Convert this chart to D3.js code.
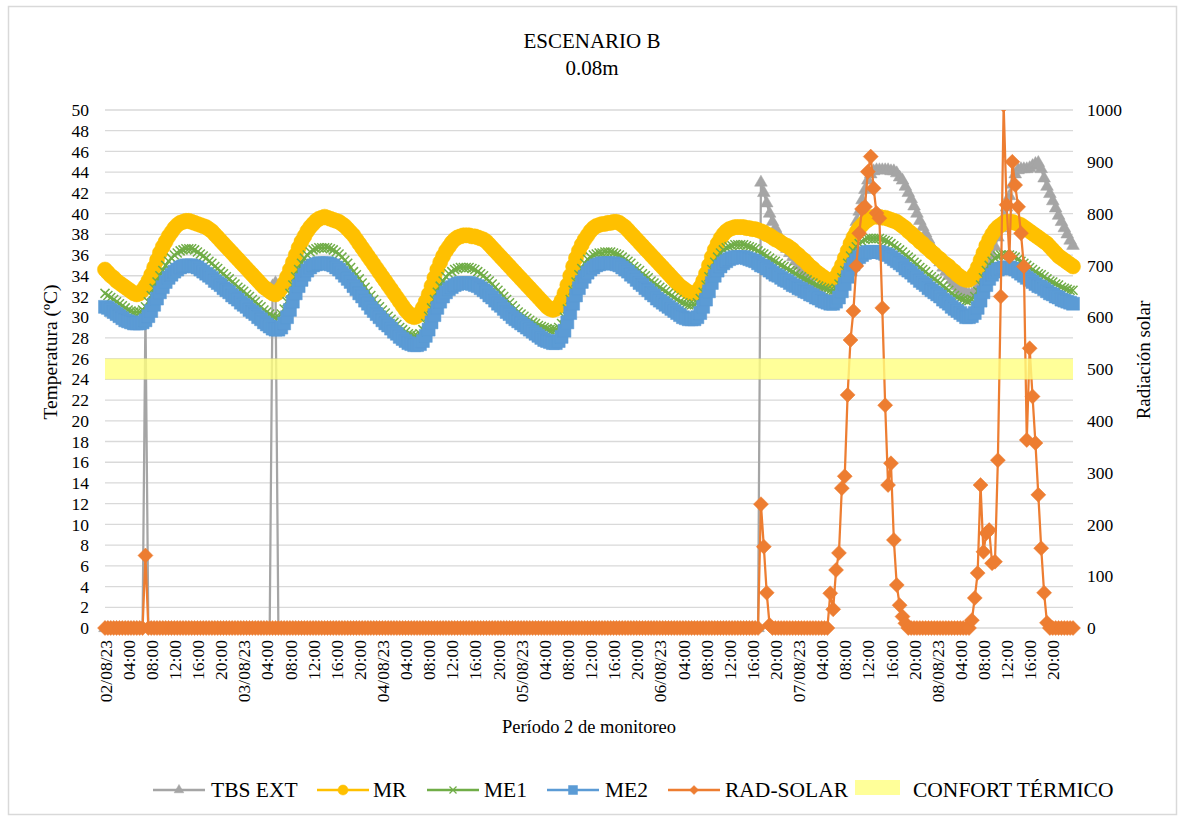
<!DOCTYPE html>
<html>
<head>
<meta charset="utf-8">
<script src="https://cdn.jsdelivr.net/npm/d3@7"></script>
<style>
  body { margin: 0; background: #fff; }
  svg text { font-family: "Liberation Serif", "Times New Roman", serif; fill: #000; }
</style>
</head>
<body>
<script>
// half-hourly readings, 02/08/23 00:00 -> 08/08/23 23:30 (48 per day, 12 per row)
let tbsExt = [
  0,0,0,0,0,0,0,0,0,0,0,0,
  0,0,30.5,0,0,0,0,0,0,0,0,0,
  0,0,0,0,0,0,0,0,0,0,0,0,
  0,0,0,0,0,0,0,0,0,0,0,0,
  0,0,0,0,0,0,0,0,0,0,33.0,33.3,
  0,0,0,0,0,0,0,0,0,0,0,0,
  0,0,0,0,0,0,0,0,0,0,0,0,
  0,0,0,0,0,0,0,0,0,0,0,0,
  0,0,0,0,0,0,0,0,0,0,0,0,
  0,0,0,0,0,0,0,0,0,0,0,0,
  0,0,0,0,0,0,0,0,0,0,0,0,
  0,0,0,0,0,0,0,0,0,0,0,0,
  0,0,0,0,0,0,0,0,0,0,0,0,
  0,0,0,0,0,0,0,0,0,0,0,0,
  0,0,0,0,0,0,0,0,0,0,0,0,
  0,0,0,0,0,0,0,0,0,0,0,0,
  0,0,0,0,0,0,0,0,0,0,0,0,
  0,0,0,0,0,0,0,0,0,0,0,0,
  0,0,0,0,0,0,0,0,0,0,0,43.0,
  42.0, 41.0, 40.0, 39.2, 38.6, 38.0, 37.5, 37.0, 36.6, 36.2, 35.8, 35.4,
  35.0, 34.6, 34.2, 33.8, 33.4, 33.0, 32.7, 32.4, 32.1, 31.8, 31.6, 31.5,
  31.6, 32.4, 33.5, 34.6, 35.6, 36.6, 37.5, 38.3, 39.2, 40.2, 41.3, 42.3,
  43.2, 43.8, 44.1, 44.2, 44.2, 44.2, 44.2, 44.2, 44.1, 44.1, 43.9, 43.5,
  43.2, 42.6, 42.0, 41.4, 40.7, 40.0, 39.3, 38.7, 38.1, 37.5, 36.9, 36.3,
  35.8, 35.3, 34.8, 34.4, 34.0, 33.6, 33.3, 33.0, 32.7, 32.5, 32.3, 32.2,
  32.2, 32.4, 32.8, 33.3, 33.9, 34.6, 35.3, 36.0, 36.8, 37.7, 38.6, 39.6,
  40.6, 41.7, 42.8, 43.8, 44.2, 44.3, 44.3, 44.3, 44.4, 44.6, 44.8, 44.9,
  44.3, 43.4, 42.6, 41.9, 41.2, 40.5, 39.8, 39.2, 38.6, 38.0, 37.4, 36.9
]

let mr = [
  34.6, 34.3, 34.0, 33.8, 33.5, 33.3, 33.1, 32.9, 32.7, 32.5, 32.3, 32.2,
  32.3, 32.6, 33.0, 33.5, 34.1, 34.8, 35.5, 36.2, 36.8, 37.3, 37.8, 38.2,
  38.6, 38.9, 39.1, 39.2, 39.3, 39.3, 39.2, 39.1, 39.0, 38.9, 38.8, 38.7,
  38.5, 38.3, 38.0, 37.7, 37.4, 37.1, 36.8, 36.5, 36.2, 35.9, 35.6, 35.3,
  35.0, 34.7, 34.4, 34.1, 33.8, 33.5, 33.2, 32.9, 32.7, 32.5, 32.3, 32.2,
  32.4, 32.8, 33.3, 33.9, 34.6, 35.3, 36.0, 36.7, 37.3, 37.8, 38.3, 38.7,
  39.0, 39.3, 39.5, 39.6, 39.7, 39.6, 39.5, 39.4, 39.3, 39.2, 39.0, 38.8,
  38.5, 38.2, 37.9, 37.5, 37.1, 36.7, 36.3, 35.9, 35.5, 35.1, 34.7, 34.3,
  33.9, 33.5, 33.1, 32.7, 32.3, 31.9, 31.5, 31.1, 30.7, 30.4, 30.1, 30.0,
  30.1, 30.4, 30.9, 31.5, 32.2, 33.0, 33.8, 34.6, 35.3, 35.9, 36.4, 36.8,
  37.2, 37.5, 37.7, 37.8, 37.9, 37.9, 37.9, 37.8, 37.8, 37.7, 37.6, 37.5,
  37.3, 37.0, 36.7, 36.4, 36.1, 35.8, 35.5, 35.2, 34.9, 34.6, 34.3, 34.0,
  33.7, 33.4, 33.1, 32.8, 32.5, 32.2, 31.9, 31.6, 31.3, 31.0, 30.8, 30.7,
  30.8, 31.1, 31.6, 32.3, 33.1, 34.0, 34.9, 35.7, 36.4, 37.0, 37.5, 37.9,
  38.3, 38.6, 38.8, 38.9, 39.0, 39.0, 39.1, 39.1, 39.2, 39.2, 39.1, 38.9,
  38.7, 38.4, 38.1, 37.8, 37.5, 37.2, 36.9, 36.6, 36.3, 36.0, 35.7, 35.4,
  35.1, 34.8, 34.5, 34.2, 33.9, 33.6, 33.3, 33.0, 32.8, 32.6, 32.4, 32.3,
  32.3, 32.5, 32.9, 33.5, 34.2, 35.0, 35.8, 36.5, 37.1, 37.6, 38.0, 38.3,
  38.5, 38.6, 38.7, 38.7, 38.7, 38.7, 38.6, 38.6, 38.5, 38.5, 38.4, 38.3,
  38.2, 38.0, 37.9, 37.7, 37.5, 37.4, 37.2, 37.0, 36.9, 36.7, 36.5, 36.2,
  36.0, 35.7, 35.5, 35.2, 34.9, 34.7, 34.4, 34.2, 34.0, 33.8, 33.6, 33.5,
  33.6, 33.9, 34.4, 35.0, 35.7, 36.4, 37.1, 37.7, 38.2, 38.6, 38.9, 39.2,
  39.4, 39.6, 39.7, 39.7, 39.7, 39.6, 39.6, 39.5, 39.4, 39.3, 39.2, 39.0,
  38.8, 38.6, 38.3, 38.1, 37.8, 37.6, 37.3, 37.1, 36.8, 36.6, 36.3, 36.1,
  35.8, 35.6, 35.3, 35.1, 34.9, 34.6, 34.4, 34.1, 33.9, 33.7, 33.6, 33.6,
  33.8, 34.2, 34.8, 35.5, 36.2, 36.9, 37.5, 38.0, 38.4, 38.7, 38.9, 39.1,
  39.2, 39.2, 39.2, 39.1, 39.0, 38.9, 38.7, 38.5, 38.3, 38.1, 37.9, 37.7,
  37.5, 37.3, 37.1, 36.8, 36.5, 36.2, 35.9, 35.7, 35.5, 35.3, 35.1, 34.9
]

let me1 = [
  32.3, 32.1, 31.9, 31.7, 31.5, 31.3, 31.1, 30.9, 30.7, 30.6, 30.5, 30.5,
  30.5, 30.7, 31.0, 31.5, 32.1, 32.8, 33.4, 34.0, 34.5, 35.0, 35.4, 35.7,
  36.0, 36.2, 36.4, 36.5, 36.6, 36.6, 36.6, 36.5, 36.3, 36.1, 35.9, 35.7,
  35.4, 35.2, 34.9, 34.7, 34.4, 34.2, 33.9, 33.7, 33.4, 33.2, 32.9, 32.7,
  32.5, 32.2, 32.0, 31.7, 31.5, 31.2, 31.0, 30.7, 30.5, 30.3, 30.1, 30.0,
  30.0, 30.3, 30.8, 31.5, 32.3, 33.1, 33.9, 34.6, 35.2, 35.7, 36.0, 36.3,
  36.5, 36.6, 36.7, 36.7, 36.7, 36.7, 36.6, 36.5, 36.3, 36.1, 35.8, 35.5,
  35.2, 34.8, 34.4, 34.1, 33.7, 33.3, 32.9, 32.5, 32.1, 31.7, 31.3, 31.0,
  30.7, 30.4, 30.1, 29.8, 29.5, 29.3, 29.0, 28.8, 28.6, 28.4, 28.3, 28.2,
  28.2, 28.4, 28.8, 29.4, 30.1, 30.9, 31.7, 32.4, 33.0, 33.5, 33.9, 34.2,
  34.4, 34.6, 34.7, 34.8, 34.8, 34.8, 34.8, 34.7, 34.6, 34.4, 34.2, 34.0,
  33.7, 33.5, 33.2, 32.9, 32.6, 32.3, 32.0, 31.7, 31.4, 31.1, 30.8, 30.5,
  30.3, 30.1, 29.9, 29.7, 29.5, 29.4, 29.2, 29.1, 29.0, 28.9, 28.8, 28.8,
  28.8, 29.0, 29.4, 30.0, 30.8, 31.7, 32.6, 33.4, 34.1, 34.7, 35.2, 35.6,
  35.8, 36.0, 36.1, 36.2, 36.2, 36.3, 36.3, 36.3, 36.2, 36.1, 36.0, 35.8,
  35.6, 35.4, 35.2, 34.9, 34.7, 34.5, 34.2, 34.0, 33.8, 33.5, 33.3, 33.1,
  32.9, 32.7, 32.5, 32.3, 32.1, 31.9, 31.7, 31.5, 31.4, 31.3, 31.2, 31.2,
  31.2, 31.4, 31.8, 32.4, 33.1, 33.9, 34.6, 35.3, 35.8, 36.2, 36.5, 36.7,
  36.8, 36.9, 37.0, 37.0, 37.0, 37.0, 36.9, 36.8, 36.7, 36.6, 36.4, 36.2,
  36.1, 35.9, 35.7, 35.5, 35.4, 35.2, 35.0, 34.9, 34.7, 34.5, 34.4, 34.2,
  34.0, 33.9, 33.7, 33.6, 33.4, 33.3, 33.1, 33.0, 32.9, 32.8, 32.7, 32.6,
  32.6, 32.8, 33.2, 33.8, 34.5, 35.2, 35.9, 36.4, 36.8, 37.1, 37.3, 37.5,
  37.6, 37.6, 37.6, 37.6, 37.6, 37.5, 37.4, 37.3, 37.1, 36.9, 36.7, 36.5,
  36.3, 36.0, 35.8, 35.6, 35.3, 35.1, 34.8, 34.6, 34.4, 34.1, 33.9, 33.7,
  33.5, 33.3, 33.0, 32.8, 32.6, 32.3, 32.1, 31.9, 31.8, 31.7, 31.6, 31.6,
  31.7, 32.0, 32.5, 33.1, 33.8, 34.5, 35.0, 35.4, 35.7, 35.9, 36.0, 36.0,
  36.0, 36.0, 35.9, 35.8, 35.6, 35.4, 35.2, 35.0, 34.8, 34.6, 34.4, 34.2,
  34.1, 33.9, 33.7, 33.5, 33.4, 33.2, 33.1, 32.9, 32.8, 32.7, 32.6, 32.6
]

let me2 = [
  31.0, 30.9, 30.7, 30.5, 30.3, 30.1, 29.9, 29.7, 29.6, 29.5, 29.4, 29.4,
  29.4, 29.5, 29.7, 30.1, 30.6, 31.2, 31.8, 32.4, 32.9, 33.4, 33.8, 34.1,
  34.4, 34.6, 34.8, 34.9, 35.0, 35.0, 35.0, 34.9, 34.8, 34.6, 34.4, 34.2,
  34.0, 33.8, 33.5, 33.3, 33.1, 32.8, 32.6, 32.4, 32.1, 31.9, 31.7, 31.4,
  31.2, 31.0, 30.7, 30.5, 30.3, 30.0, 29.8, 29.5, 29.3, 29.1, 28.9, 28.8,
  28.8, 29.0, 29.4, 30.0, 30.7, 31.5, 32.3, 33.0, 33.6, 34.1, 34.5, 34.8,
  35.0, 35.1, 35.2, 35.2, 35.2, 35.2, 35.1, 35.0, 34.8, 34.6, 34.3, 34.0,
  33.7, 33.4, 33.0, 32.7, 32.3, 32.0, 31.6, 31.3, 30.9, 30.6, 30.3, 30.0,
  29.7, 29.4, 29.2, 28.9, 28.6, 28.4, 28.1, 27.9, 27.7, 27.5, 27.4, 27.3,
  27.3, 27.4, 27.7, 28.2, 28.8, 29.5, 30.2, 30.9, 31.5, 32.0, 32.4, 32.7,
  32.9, 33.1, 33.2, 33.3, 33.3, 33.3, 33.3, 33.2, 33.1, 33.0, 32.8, 32.6,
  32.4, 32.1, 31.9, 31.6, 31.3, 31.1, 30.8, 30.5, 30.3, 30.0, 29.8, 29.6,
  29.4, 29.2, 29.0, 28.8, 28.6, 28.4, 28.2, 28.0, 27.8, 27.7, 27.6, 27.5,
  27.5, 27.7, 28.1, 28.7, 29.5, 30.4, 31.3, 32.1, 32.8, 33.4, 33.9, 34.3,
  34.6, 34.8, 35.0, 35.1, 35.2, 35.2, 35.2, 35.2, 35.2, 35.1, 35.0, 34.8,
  34.6, 34.4, 34.1, 33.9, 33.6, 33.3, 33.1, 32.8, 32.6, 32.3, 32.1, 31.8,
  31.6, 31.4, 31.2, 31.0, 30.8, 30.6, 30.4, 30.2, 30.0, 29.9, 29.8, 29.8,
  29.8, 30.0, 30.4, 31.0, 31.7, 32.5, 33.3, 34.0, 34.5, 34.9, 35.2, 35.4,
  35.6, 35.7, 35.8, 35.8, 35.8, 35.8, 35.7, 35.6, 35.5, 35.4, 35.2, 35.0,
  34.9, 34.7, 34.5, 34.3, 34.1, 34.0, 33.8, 33.6, 33.5, 33.3, 33.1, 33.0,
  32.8, 32.7, 32.5, 32.4, 32.2, 32.1, 31.9, 31.8, 31.6, 31.5, 31.4, 31.3,
  31.3, 31.5, 31.9, 32.5, 33.2, 33.9, 34.6, 35.1, 35.5, 35.8, 36.0, 36.2,
  36.3, 36.3, 36.3, 36.3, 36.3, 36.2, 36.1, 36.0, 35.8, 35.6, 35.4, 35.2,
  35.0, 34.7, 34.5, 34.3, 34.0, 33.8, 33.5, 33.3, 33.1, 32.8, 32.6, 32.4,
  32.2, 32.0, 31.7, 31.5, 31.3, 31.0, 30.8, 30.6, 30.4, 30.2, 30.0, 30.0,
  30.1, 30.4, 30.9, 31.6, 32.4, 33.1, 33.7, 34.1, 34.4, 34.6, 34.7, 34.8,
  34.8, 34.8, 34.7, 34.6, 34.4, 34.2, 34.0, 33.8, 33.6, 33.4, 33.2, 33.0,
  32.9, 32.7, 32.5, 32.3, 32.2, 32.0, 31.9, 31.7, 31.6, 31.5, 31.4, 31.3
]

// W/m2, right axis
let radSolar = [
  0,0,0,0,0,0,0,0,0,0,0,0,
  0,0,140,0,0,0,0,0,0,0,0,0,
  0,0,0,0,0,0,0,0,0,0,0,0,
  0,0,0,0,0,0,0,0,0,0,0,0,
  0,0,0,0,0,0,0,0,0,0,0,0,
  0,0,0,0,0,0,0,0,0,0,0,0,
  0,0,0,0,0,0,0,0,0,0,0,0,
  0,0,0,0,0,0,0,0,0,0,0,0,
  0,0,0,0,0,0,0,0,0,0,0,0,
  0,0,0,0,0,0,0,0,0,0,0,0,
  0,0,0,0,0,0,0,0,0,0,0,0,
  0,0,0,0,0,0,0,0,0,0,0,0,
  0,0,0,0,0,0,0,0,0,0,0,0,
  0,0,0,0,0,0,0,0,0,0,0,0,
  0,0,0,0,0,0,0,0,0,0,0,0,
  0,0,0,0,0,0,0,0,0,0,0,0,
  0,0,0,0,0,0,0,0,0,0,0,0,
  0,0,0,0,0,0,0,0,0,0,0,0,
  0,0,0,0,0,0,0,0,0,0,0,239,
  157,68,6,0,0,0,0,0,0,0,0,0,
  0,0,0,0,0,0,0,0,0,0,0,67,
  36, 112, 145, 270, 293, 450, 556, 612, 699, 762, 809, 813,
  881, 910, 849, 801, 791, 618, 430, 276, 318, 170, 83, 44,
  22,9,0,0,0,0,0,0,0,0,0,0,
  0,0,0,0,0,0,0,0,0,0,0,0,
  15, 58, 106, 276, 147, 183, 189, 125, 128, 324, 640, 1010,
  817, 717, 900, 855, 813, 762, 698, 363, 540, 447, 357, 257,
  154,68,10,0,0,0,0,0,0,0,0,0
]

let tempTicks = d3.range(0, 51, 2)
let radTicks = d3.range(0, 1001, 100)
let confortRange = [24, 26]
let days = ["02/08/23", "03/08/23", "04/08/23", "05/08/23", "06/08/23", "07/08/23", "08/08/23"]

let svgWidth = 1184
let svgHeight = 821
let plot = { left: 105, right: 1073, top: 110, bottom: 628 }
let serif = "'Liberation Serif', 'Times New Roman', serif"

let colors = {
    tbs: "#A5A5A5",
    mr: "#FFC000",
    me1: "#70AD47",
    me2: "#5B9BD5",
    rad: "#ED7D31",
    confort: "#FFFF80"
}

let n = mr.length
let xScale = d3.scaleLinear().domain([0, n - 1]).range([plot.left, plot.right])
let yScale = d3.scaleLinear().domain([0, 50]).range([plot.bottom, plot.top])
let yRad = d3.scaleLinear().domain([0, 1000]).range([plot.bottom, plot.top])

let svg = d3.select("body").append("svg")
    .attr("width", svgWidth)
    .attr("height", svgHeight)
    .attr("font-family", serif)

svg.append("rect")
    .attr("x", 8.5).attr("y", 6.5)
    .attr("width", 1168).attr("height", 808)
    .attr("fill", "#fff")
    .attr("stroke", "#D9D9D9")
    .attr("stroke-width", 1.5)

// title
svg.append("text").attr("x", 592).attr("y", 48).attr("text-anchor", "middle")
    .style("font-size", "21px").style("font-family", serif).text("ESCENARIO B")
svg.append("text").attr("x", 592).attr("y", 75).attr("text-anchor", "middle")
    .style("font-size", "21px").style("font-family", serif).text("0.08m")

// gridlines
svg.append("g").selectAll("line")
    .data(tempTicks)
    .enter().append("line")
    .attr("x1", plot.left).attr("x2", plot.right)
    .attr("y1", d => yScale(d)).attr("y2", d => yScale(d))
    .attr("stroke", "#D9D9D9").attr("stroke-width", 1.3)

// axes
let yAxis = d3.axisLeft(yScale).tickValues(tempTicks).tickSize(0).tickPadding(16)
let gY = svg.append("g").attr("transform", "translate(" + plot.left + ",0)").call(yAxis)

let yAxisR = d3.axisRight(yRad).tickValues(radTicks).tickSize(0).tickPadding(14)
    .tickFormat(d3.format("d"))
let gYR = svg.append("g").attr("transform", "translate(" + plot.right + ",0)").call(yAxisR)

let xFormat = function (i) {
    let h = (i % 48) / 2
    if (h === 0) return days[Math.floor(i / 48)]
    return (h < 10 ? "0" : "") + h + ":00"
}
let xAxis = d3.axisBottom(xScale).tickValues(d3.range(0, n, 8)).tickSize(0).tickFormat(xFormat)
let gX = svg.append("g").attr("transform", "translate(0," + plot.bottom + ")").call(xAxis)
gX.selectAll("text")
    .attr("transform", "rotate(-90)")
    .attr("text-anchor", "end")
    .attr("x", -12)
    .attr("y", 0)
    .attr("dy", "0.35em")

;[gY, gYR, gX].forEach(function (g) {
    g.attr("font-family", serif).attr("font-size", null)
    g.select(".domain").remove()
    g.selectAll("text").style("font-size", "17.5px").style("font-family", serif).attr("fill", "#000")
})

// axis titles
svg.append("text")
    .attr("transform", "translate(57,352) rotate(-90)")
    .attr("text-anchor", "middle")
    .style("font-size", "19.5px").style("font-family", serif)
    .text("Temperatura (ºC)")

svg.append("text")
    .attr("transform", "translate(1150,360) rotate(-90)")
    .attr("text-anchor", "middle")
    .style("font-size", "19px").style("font-family", serif)
    .text("Radiación solar")

svg.append("text")
    .attr("x", 589).attr("y", 733)
    .attr("text-anchor", "middle")
    .style("font-size", "18.5px").style("font-family", serif)
    .text("Período 2 de monitoreo")

// series
svg.append("clipPath").attr("id", "plotClip")
    .append("rect").attr("x", 0).attr("y", plot.top).attr("width", svgWidth).attr("height", 600)

let chart = svg.append("g").attr("clip-path", "url(#plotClip)")

let shapes = {
    triangle: d3.symbol().type(d3.symbolTriangle).size(70)(),
    circle: d3.symbol().type(d3.symbolCircle).size(180)(),
    cross: "M-4.5,-4.5L4.5,4.5M-4.5,4.5L4.5,-4.5",
    square: "M-6.5,-6.5H6.5V6.5H-6.5Z",
    diamond: "M0,-7.5L7.5,0L0,7.5L-7.5,0Z"
}

function drawSeries(values, y, color, shape) {
    let line = d3.line()
        .x(function (d, i) { return xScale(i) })
        .y(function (d) { return y(d) })
    let g = chart.append("g")
    g.append("path")
        .datum(values)
        .attr("d", line)
        .attr("fill", "none")
        .attr("stroke", color)
        .attr("stroke-width", 2.25)
        .attr("stroke-linejoin", "round")
    g.selectAll(".mk")
        .data(values)
        .enter().append("path")
        .attr("transform", function (d, i) { return "translate(" + xScale(i) + "," + y(d) + ")" })
        .attr("d", shapes[shape])
        .attr("fill", shape === "cross" ? "none" : color)
        .attr("stroke", color)
        .attr("stroke-width", shape === "cross" ? 1.5 : 0.5)
}

drawSeries(tbsExt, yScale, colors.tbs, "triangle")
drawSeries(mr, yScale, colors.mr, "circle")
drawSeries(me1, yScale, colors.me1, "cross")
drawSeries(me2, yScale, colors.me2, "square")
drawSeries(radSolar, yRad, colors.rad, "diamond")

// comfort band, drawn over the series like the original
svg.append("rect")
    .attr("x", plot.left)
    .attr("y", yScale(confortRange[1]))
    .attr("width", plot.right - plot.left)
    .attr("height", yScale(confortRange[0]) - yScale(confortRange[1]))
    .attr("fill", colors.confort)
    .attr("fill-opacity", 0.8)

// legend
let legendItems = [
    { name: "TBS EXT", color: colors.tbs, shape: "triangle", x: 153, tx: 211 },
    { name: "MR", color: colors.mr, shape: "circle", x: 317, tx: 373 },
    { name: "ME1", color: colors.me1, shape: "cross", x: 427, tx: 484 },
    { name: "ME2", color: colors.me2, shape: "square", x: 547, tx: 605 },
    { name: "RAD-SOLAR", color: colors.rad, shape: "diamond", x: 668, tx: 725 }
]
let legendShapes = {
    triangle: d3.symbol().type(d3.symbolTriangle).size(40)(),
    circle: d3.symbol().type(d3.symbolCircle).size(80)(),
    cross: "M-3.5,-3.5L3.5,3.5M-3.5,3.5L3.5,-3.5",
    square: "M-4.5,-4.5H4.5V4.5H-4.5Z",
    diamond: "M0,-4.5L4.5,0L0,4.5L-4.5,0Z"
}
let legendY = 790
let legend = svg.append("g")
let items = legend.selectAll("g").data(legendItems).enter().append("g")
items.append("line")
    .attr("x1", d => d.x).attr("x2", d => d.x + 52)
    .attr("y1", legendY).attr("y2", legendY)
    .attr("stroke", d => d.color).attr("stroke-width", 2.5)
items.append("path")
    .attr("transform", d => "translate(" + (d.x + 26) + "," + legendY + ")")
    .attr("d", d => legendShapes[d.shape])
    .attr("fill", d => d.shape === "cross" ? "none" : d.color)
    .attr("stroke", d => d.color)
    .attr("stroke-width", d => d.shape === "cross" ? 1.3 : 0.5)
items.append("text")
    .attr("x", d => d.tx).attr("y", legendY + 7)
    .style("font-size", "21.5px").style("font-family", serif)
    .text(d => d.name)

legend.append("rect")
    .attr("x", 855).attr("y", 780).attr("width", 45).attr("height", 15)
    .attr("fill", colors.confort).attr("fill-opacity", 0.8)
legend.append("text")
    .attr("x", 913).attr("y", legendY + 7)
    .style("font-size", "21.5px").style("font-family", serif)
    .text("CONFORT TÉRMICO")
</script>
</body>
</html>
